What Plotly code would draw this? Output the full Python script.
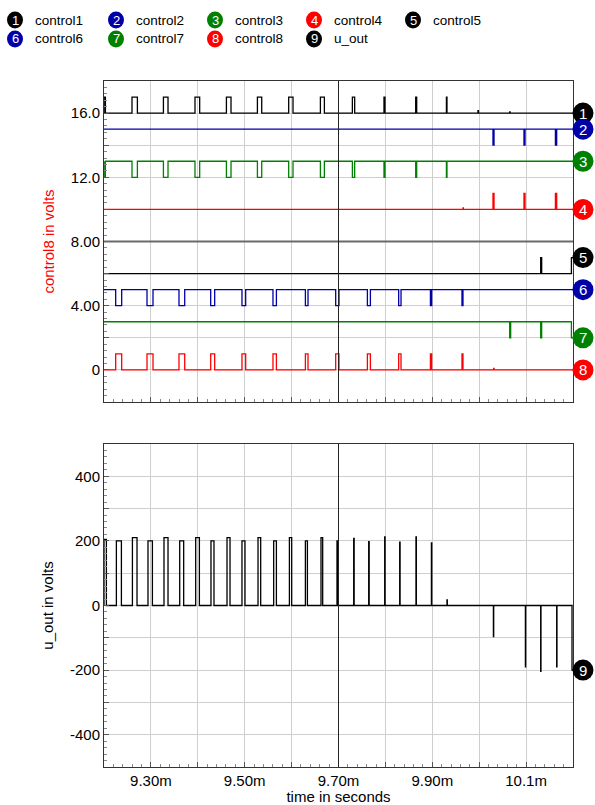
import plotly.graph_objects as go

# ---------------- data (times in ms) ----------------
T0, T1 = 9.2, 10.2

# PWM group A: control1 (black, 16 -> 17 pulses) and control3 (green, 13 -> 12 dips)
A_ON = [9.2000, 9.2597, 9.3267, 9.3940, 9.4610, 9.5271, 9.5938, 9.6614, 9.7296, 9.7970, 9.8646, 9.9301]
A_OFF = [9.2030, 9.2712, 9.3365, 9.4040, 9.4708, 9.5363, 9.6030, 9.6699, 9.7345, 9.7991, 9.8667, 9.9313]
C1_BLIP_ON = [9.9974, 10.0650]
C1_BLIP_OFF = [9.9984, 10.0658]
C1_BLIP_PEAK = [16.15, 16.08]

# PWM group B: control6 (blue, 5 -> 4 dips) and control8 (red, 0 -> 1 pulses)
B_ON = [9.2249, 9.2917, 9.3599, 9.4275, 9.4942, 9.5603, 9.6294, 9.6940, 9.7616, 9.8283, 9.8960, 9.9633]
B_OFF = [9.2377, 9.3045, 9.3721, 9.4360, 9.5021, 9.5676, 9.6350, 9.7010, 9.7680, 9.8333, 9.8987, 9.9654]
C8_BLIP_ON = [10.0309]
C8_BLIP_OFF = [10.0317]
C8_BLIP_PEAK = [0.1]

# group C: control2 (blue, 15 -> 14 dips) and control4 (red, 10 -> 11 pulses)
C_ON = [10.0294, 10.0955, 10.1625]
C_OFF = [10.0316, 10.0977, 10.1652]
C4_BLIP_ON = [9.9655]
C4_BLIP_OFF = [9.9663]
C4_BLIP_PEAK = [10.1]

# control5 (black, 6 -> 7) and control7 (green, 3 -> 2)
C5_ON = [10.1311, 10.1966]
C5_OFF = [10.1332, 10.2000]
C7_ON = [10.0650, 10.1311, 10.1966]
C7_OFF = [10.0671, 10.1332, 10.2000]

# signal levels (base, pulse level)
LEVELS = {
    "control1": (16, 17), "control2": (15, 14), "control3": (13, 12), "control4": (10, 11),
    "control5": (6, 7), "control6": (5, 4), "control7": (3, 2), "control8": (0, 1),
}

# u_out pulses
U_ON = [9.2000, 9.2264, 9.2606, 9.2938, 9.3279, 9.3614, 9.3955, 9.4281, 9.4623, 9.4942,
        9.5284, 9.5618, 9.5953, 9.6294, 9.6627, 9.6968, 9.7324, 9.7644, 9.7985, 9.8305,
        9.8652, 9.8981, 9.9313, 10.0303, 10.0985, 10.1311, 10.1652, 10.1979]
U_OFF = [9.2051, 9.2371, 9.2704, 9.3032, 9.3365, 9.3699, 9.4034, 9.4345, 9.4687, 9.5006,
         9.5341, 9.5676, 9.6002, 9.6337, 9.6663, 9.6989, 9.7334, 9.7654, 9.7993, 9.8313,
         9.8660, 9.8989, 9.9320, 10.0309, 10.0991, 10.1317, 10.1658, 10.2000]
U_PEAK = [205, 200, 210, 200, 210, 200, 210, 200, 210, 200,
          210, 200, 210, 200, 210, 200, 208, 198, 212, 196,
          212, 194, 17, -96, -190, -204, -190, -200]

CURSOR_T = 9.70
REF_LEVEL = 8

X_TICKS = [9.3, 9.4, 9.5, 9.6, 9.7, 9.8, 9.9, 10.0, 10.1]
X_TICK_TEXT = ["9.30m", "", "9.50m", "", "9.70m", "", "9.90m", "", "10.1m"]
Y1_TICKS = [0, 2, 4, 6, 8, 10, 12, 14, 16]
Y1_TICK_TEXT = ["0", "", "4.00", "", "8.00", "", "12.0", "", "16.0"]
Y2_TICKS = [-400, -300, -200, -100, 0, 100, 200, 300, 400]
Y2_TICK_TEXT = ["-400", "", "-200", "", "0", "", "200", "", "400"]

BLACK, BLUE, GREEN, RED = "#000000", "#0000a8", "#008000", "#ff0000"
SERIES = [
    ("control1", BLACK), ("control2", BLUE), ("control3", GREEN), ("control4", RED),
    ("control5", BLACK), ("control6", BLUE), ("control7", GREEN), ("control8", RED),
    ("u_out", BLACK),
]


def wave(pulses, base):
    """pulses: list of (on, off, peak) sorted by time."""
    xs, ys = [T0], [base]
    for on, off, peak in sorted(pulses):
        xs += [on, on]
        ys += [base, peak]
        if off >= T1:
            xs.append(T1)
            ys.append(peak)
            return xs, ys
        xs += [off, off]
        ys += [peak, base]
    xs.append(T1)
    ys.append(base)
    return xs, ys


def pulses(on, off, peak):
    if not isinstance(peak, list):
        peak = [peak] * len(on)
    return list(zip(on, off, peak))


waves = {}
b, p = LEVELS["control1"]
waves["control1"] = wave(pulses(A_ON, A_OFF, p) + pulses(C1_BLIP_ON, C1_BLIP_OFF, C1_BLIP_PEAK), b)
b, p = LEVELS["control2"]
waves["control2"] = wave(pulses(C_ON, C_OFF, p), b)
b, p = LEVELS["control3"]
waves["control3"] = wave(pulses(A_ON, A_OFF, p), b)
b, p = LEVELS["control4"]
waves["control4"] = wave(pulses(C_ON, C_OFF, p) + pulses(C4_BLIP_ON, C4_BLIP_OFF, C4_BLIP_PEAK), b)
b, p = LEVELS["control5"]
waves["control5"] = wave(pulses(C5_ON, C5_OFF, p), b)
b, p = LEVELS["control6"]
waves["control6"] = wave(pulses(B_ON, B_OFF, p), b)
b, p = LEVELS["control7"]
waves["control7"] = wave(pulses(C7_ON, C7_OFF, p), b)
b, p = LEVELS["control8"]
waves["control8"] = wave(pulses(B_ON, B_OFF, p) + pulses(C8_BLIP_ON, C8_BLIP_OFF, C8_BLIP_PEAK), b)
waves["u_out"] = wave(pulses(U_ON, U_OFF, U_PEAK), 0)

# ---------------- figure ----------------
W, H = 595, 805
ML, MR, MT, MB = 104, 22, 81, 38
PW, PH = W - ML - MR, H - MT - MB
FONT = "Liberation Sans, Arial, sans-serif"

fig = go.Figure()
for i, (name, color) in enumerate(SERIES):
    xs, ys = waves[name]
    top = name != "u_out"
    fig.add_trace(go.Scatter(
        x=xs, y=ys, mode="lines", name=name,
        line=dict(color=color, width=1.3, simplify=False),
        xaxis="x2" if top else "x", yaxis="y2" if top else "y",
        showlegend=False, hoverinfo="skip",
    ))

grid = "#cfcfcf"
axis_common = dict(showline=True, mirror=True, linecolor="#333333", linewidth=1,
                   gridcolor=grid, gridwidth=1, zeroline=False, ticks="inside",
                   ticklen=5, tickcolor="#555555",
                   tickfont=dict(family=FONT, size=15, color="#000000"))
minor_x = dict(dtick=0.02, ticklen=3, tickcolor="#888888", ticks="inside", showgrid=False)

fig.update_layout(
    width=W, height=H, margin=dict(l=ML, r=MR, t=MT, b=MB, autoexpand=False),
    paper_bgcolor="white", plot_bgcolor="white",
    font=dict(family=FONT, size=15, color="#000000"),
    xaxis=dict(domain=[0, 1], range=[T0, T1], anchor="y", tickmode="array",
               tickvals=X_TICKS, ticktext=X_TICK_TEXT, minor=minor_x,
               title=dict(text="time in seconds", standoff=2, font=dict(size=15)),
               automargin=False, **axis_common),
    xaxis2=dict(domain=[0, 1], range=[T0, T1], anchor="y2", matches="x", tickmode="array",
                tickvals=X_TICKS, showticklabels=False, minor=minor_x,
                automargin=False, **axis_common),
    yaxis=dict(domain=[0, (767 - 444) / PH], range=[-500, 500], anchor="x", tickmode="array",
               tickvals=Y2_TICKS, ticktext=Y2_TICK_TEXT,
               minor=dict(dtick=20, ticklen=3, tickcolor="#888888", ticks="inside", showgrid=False),
               title=dict(text="u_out in volts", standoff=12, font=dict(size=15, color="#000000")),
               automargin=False, **axis_common),
    yaxis2=dict(domain=[(767 - 402) / PH, 1], range=[-2, 18], anchor="x2", tickmode="array",
                tickvals=Y1_TICKS, ticktext=Y1_TICK_TEXT,
                minor=dict(dtick=0.4, ticklen=3, tickcolor="#888888", ticks="inside", showgrid=False),
                title=dict(text="control8 in volts", standoff=12, font=dict(size=15, color=RED)),
                automargin=False, **axis_common),
)

shapes = []
annotations = []

# reference level line and cursor lines
shapes.append(dict(type="line", xref="x2 domain", x0=0, x1=1, yref="y2", y0=REF_LEVEL, y1=REF_LEVEL,
                   line=dict(color="#6a6a6a", width=1.8), layer="above"))
for xr, yr in (("x", "y domain"), ("x2", "y2 domain")):
    shapes.append(dict(type="line", xref=xr, x0=CURSOR_T, x1=CURSOR_T, yref=yr, y0=0, y1=1,
                       line=dict(color="#222222", width=1)))

# end-of-trace badges on the right
for i, (name, color) in enumerate(SERIES):
    xs, ys = waves[name]
    top = name != "u_out"
    xr = "x2 domain" if top else "x domain"
    yr = "y2" if top else "y"
    shapes.append(dict(type="circle", xref=xr, xsizemode="pixel", xanchor=1, x0=-0.5, x1=20.5,
                       yref=yr, ysizemode="pixel", yanchor=ys[-1], y0=-10.5, y1=10.5,
                       fillcolor=color, line=dict(width=0), layer="above"))
    annotations.append(dict(xref=xr, x=1, xshift=10, xanchor="center", yref=yr, y=ys[-1],
                            yanchor="middle", text=str(i + 1), showarrow=False,
                            font=dict(family=FONT, size=15, color="white")))

# legend rows at the top
LEG_COLS = [15, 116, 215, 314, 413]
LEG_ROWS = [20, 39]
for i, (name, color) in enumerate(SERIES):
    cx = LEG_COLS[i % 5]
    cy = LEG_ROWS[i // 5]
    px = (cx - ML) / PW
    py = (H - MB - cy) / PH
    shapes.append(dict(type="circle", xref="paper", xsizemode="pixel", xanchor=px, x0=-8, x1=8,
                       yref="paper", ysizemode="pixel", yanchor=py, y0=-8.5, y1=8.5,
                       fillcolor=color, line=dict(width=0)))
    annotations.append(dict(xref="paper", x=px, xanchor="center", yref="paper", y=py,
                            yanchor="middle", text=str(i + 1), showarrow=False,
                            font=dict(family=FONT, size=13, color="white")))
    annotations.append(dict(xref="paper", x=px, xshift=18, xanchor="left", yref="paper", y=py,
                            yanchor="middle", text=name, showarrow=False,
                            font=dict(family=FONT, size=13.5, color="#000000")))

fig.update_layout(shapes=shapes, annotations=annotations)
fig.write_html(
    "out.html",
    config={"displayModeBar": False, "staticPlot": True},
    post_script="document.body.style.margin='0';document.body.style.overflow='hidden';",
)
